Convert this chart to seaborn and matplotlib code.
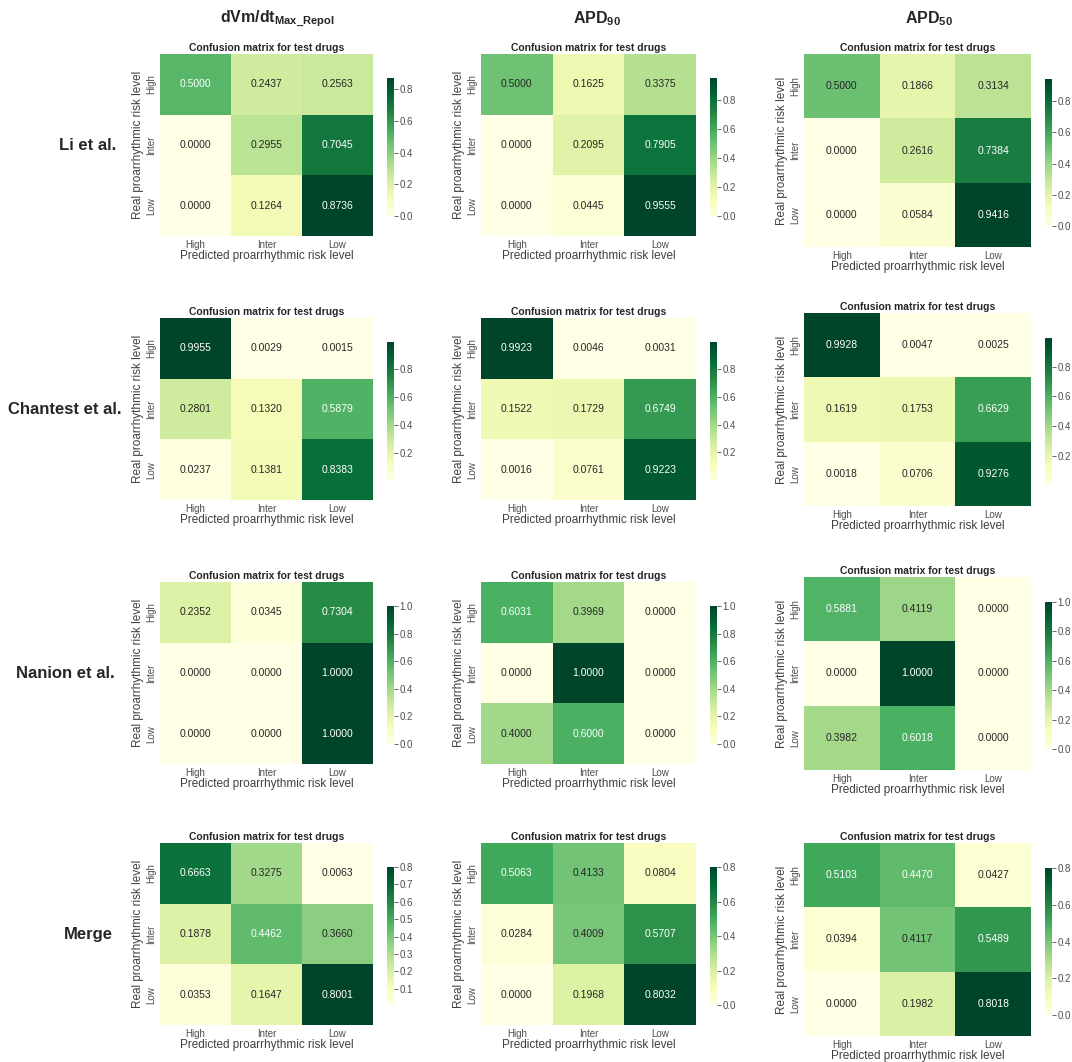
import numpy as np
import matplotlib
matplotlib.use("Agg")
import matplotlib.pyplot as plt
from matplotlib.ticker import MultipleLocator
import seaborn as sns

# risk classes
levels = ["High", "Inter", "Low"]
row_names = ["Li et al.", "Chantest et al.", "Nanion et al.", "Merge"]
col_names = [r"dVm/dt$_{\mathbf{Max\_Repol}}$", r"APD$_{\mathbf{90}}$", r"APD$_{\mathbf{50}}$"]

# confusion matrices (rows = real, cols = predicted)
li_dvdt = [[0.5000, 0.2437, 0.2563], [0.0000, 0.2955, 0.7045], [0.0000, 0.1264, 0.8736]]
li_apd90 = [[0.5000, 0.1625, 0.3375], [0.0000, 0.2095, 0.7905], [0.0000, 0.0445, 0.9555]]
li_apd50 = [[0.5000, 0.1866, 0.3134], [0.0000, 0.2616, 0.7384], [0.0000, 0.0584, 0.9416]]

chantest_dvdt = [[0.9955, 0.0029, 0.0015], [0.2801, 0.1320, 0.5879], [0.0237, 0.1381, 0.8383]]
chantest_apd90 = [[0.9923, 0.0046, 0.0031], [0.1522, 0.1729, 0.6749], [0.0016, 0.0761, 0.9223]]
chantest_apd50 = [[0.9928, 0.0047, 0.0025], [0.1619, 0.1753, 0.6629], [0.0018, 0.0706, 0.9276]]

nanion_dvdt = [[0.2352, 0.0345, 0.7304], [0.0000, 0.0000, 1.0000], [0.0000, 0.0000, 1.0000]]
nanion_apd90 = [[0.6031, 0.3969, 0.0000], [0.0000, 1.0000, 0.0000], [0.4000, 0.6000, 0.0000]]
nanion_apd50 = [[0.5881, 0.4119, 0.0000], [0.0000, 1.0000, 0.0000], [0.3982, 0.6018, 0.0000]]

merge_dvdt = [[0.6663, 0.3275, 0.0063], [0.1878, 0.4462, 0.3660], [0.0353, 0.1647, 0.8001]]
merge_apd90 = [[0.5063, 0.4133, 0.0804], [0.0284, 0.4009, 0.5707], [0.0000, 0.1968, 0.8032]]
merge_apd50 = [[0.5103, 0.4470, 0.0427], [0.0394, 0.4117, 0.5489], [0.0000, 0.1982, 0.8018]]

grid = [
    [li_dvdt, li_apd90, li_apd50],
    [chantest_dvdt, chantest_apd90, chantest_apd50],
    [nanion_dvdt, nanion_apd90, nanion_apd50],
    [merge_dvdt, merge_apd90, merge_apd50],
]

sns.set_theme(style="ticks")
plt.rcParams["font.family"] = ["Liberation Sans", "DejaVu Sans"]
plt.rcParams["mathtext.fontset"] = "custom"
plt.rcParams["mathtext.rm"] = "Liberation Sans:bold"
plt.rcParams["mathtext.bf"] = "Liberation Sans:bold"

W, H = 1072, 1062
fig = plt.figure(figsize=(W / 100, H / 100), dpi=100)

# pixel layout: columns (left, width, colorbar left), rows (top) and heights
col_x = [(160, 213, 387), (481, 215, 710), (804, 227, 1045)]
row_top = [[54, 318, 582, 843], [54, 318, 582, 843], [54, 313, 577, 843]]
col_h = [182, 182, 193]
col_head_x = [277, 597, 929]
row_label_x = [88, 65, 65, 88]

for r in range(4):
    for c in range(3):
        x0, w, cx = col_x[c]
        h = col_h[c]
        top = row_top[c][r]
        ax = fig.add_axes([x0 / W, 1 - (top + h) / H, w / W, h / H])
        ch = h * 0.76
        cb_top = top + (h - ch) / 2 + 2
        cax = fig.add_axes([cx / W, 1 - (cb_top + ch) / H, 7 / W, ch / H])
        cm = np.array(grid[r][c])
        sns.heatmap(cm, annot=True, fmt=".4f", cmap="YlGn", ax=ax, cbar_ax=cax,
                    xticklabels=levels, yticklabels=levels,
                    annot_kws={"size": 7.5})
        ax.set_title("Confusion matrix for test drugs", fontsize=7.5,
                     fontweight="bold", pad=2)
        ax.set_xlabel("Predicted proarrhythmic risk level", fontsize=8.5, color="0.25", labelpad=0)
        ax.set_ylabel("Real proarrhythmic risk level", fontsize=8.5, color="0.25", labelpad=1)
        ax.tick_params(length=0, labelsize=7, colors="0.3", pad=3)
        plt.setp(ax.get_yticklabels(), rotation=90, va="center")
        plt.setp(ax.get_xticklabels(), rotation=0)
        if r == 3 and c == 0:
            cax.yaxis.set_major_locator(MultipleLocator(0.1))
        cax.tick_params(labelsize=7, colors="0.3", length=3, width=0.6, pad=1)

for c in range(3):
    fig.text(col_head_x[c] / W, 1 - 19 / H, col_names[c], ha="center", va="center",
             fontsize=11.5, fontweight="bold")

for r in range(4):
    top = row_top[0][r]
    fig.text(row_label_x[r] / W, 1 - (top + 91) / H, row_names[r], ha="center",
             va="center", fontsize=12, fontweight="bold")

fig.savefig("out.png", dpi=100, facecolor="white")
